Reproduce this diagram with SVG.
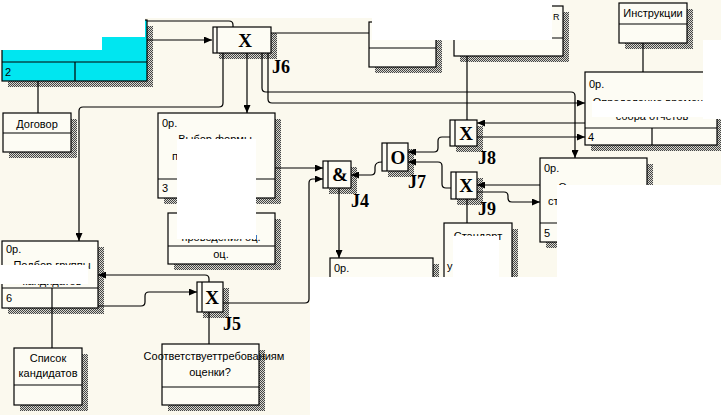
<svg xmlns="http://www.w3.org/2000/svg" width="721" height="415" viewBox="0 0 721 415">
<style>
.bx{fill:#fdfcf4;stroke:#000;stroke-width:1.2}
.sh{fill:url(#hatch)}
.ln{fill:none;stroke:#000;stroke-width:1.2}
.t{font-family:"Liberation Sans",Arial,sans-serif;font-size:11px;fill:#000}
.tm{font-family:"Liberation Sans",Arial,sans-serif;font-size:11px;fill:#000;text-anchor:middle}
.jx{font-family:"Liberation Serif","Times New Roman",serif;font-weight:bold;font-size:19px;fill:#000;text-anchor:middle}
.jl{font-family:"Liberation Serif","Times New Roman",serif;font-weight:bold;font-size:18px;fill:#000}
.wh{fill:#fff}
#connectors path{fill:none;stroke:#000;stroke-width:1.2}
</style>
<defs>
<pattern id="hatch" width="2" height="2" patternUnits="userSpaceOnUse">
<rect width="2" height="2" fill="#d8d8d0"/>
<rect width="1" height="1" fill="#444"/>
<rect x="1" y="1" width="1" height="1" fill="#444"/>
</pattern>
<marker id="ar" markerWidth="8" markerHeight="7" refX="8" refY="3.5" orient="auto" markerUnits="userSpaceOnUse">
<path d="M0,0 L8,3.5 L0,7 z" fill="#000"/>
</marker>
</defs>
<rect width="721" height="415" fill="#fbf9ee"/>
<rect x="0" y="0" width="560" height="18" fill="#fff"/>

<g id="node2">
<rect class="sh" x="8" y="26" width="145" height="61"/>
<rect x="2" y="20" width="145" height="61" fill="#00e6f0" stroke="#000" stroke-width="1.2"/>
<path class="ln" d="M2,62 H147 M75,62 V81"/>
<text class="t" x="5" y="76">2</text>
</g>

<g id="dogovor">
<rect class="sh" x="9" y="119" width="68" height="39"/>
<rect class="bx" x="3" y="113" width="68" height="39"/>
<path class="ln" d="M3,133 H71"/>
<text class="tm" x="37" y="128">Договор</text>
</g>

<g id="J6">
<rect class="sh" x="219" y="33" width="58" height="26"/>
<rect class="bx" x="213" y="27" width="58" height="26"/>
<path class="ln" d="M217,27 V53"/>
<text class="jx" x="245" y="47">X</text>
<text class="jl" x="272" y="73">J6</text>
</g>

<g id="vybrat">
<rect class="sh" x="375" y="28" width="67" height="45"/>
<rect class="bx" x="369" y="22" width="67" height="45"/>
<path class="ln" d="M369,48 H436"/>
</g>

<g id="boxR">
<rect class="sh" x="460" y="12" width="109" height="50"/>
<rect class="bx" x="454" y="6" width="109" height="50"/>
<path class="ln" d="M454,38 H563"/>
<text class="t" x="553" y="20" style="font-size:9px">R</text>
</g>

<g id="instr">
<rect class="sh" x="625" y="9" width="68" height="40"/>
<rect class="bx" x="619" y="3" width="68" height="40"/>
<path class="ln" d="M619,24 H687"/>
<text class="tm" x="653" y="17">Инструкции</text>
</g>

<g id="box4">
<rect class="sh" x="591" y="78" width="132" height="73"/>
<rect class="bx" x="585" y="72" width="132" height="73"/>
<path class="ln" d="M585,128 H717 M652,128 V145"/>
<text class="t" x="589" y="88">0р.</text>
<text class="tm" x="651" y="106">Определение времени</text>
<text class="tm" x="652" y="120">сбора отчетов</text>
<text class="t" x="588" y="141">4</text>
</g>

<g id="J8">
<rect class="sh" x="456" y="126" width="27" height="26"/>
<rect class="bx" x="450" y="120" width="27" height="26"/>
<path class="ln" d="M455,120 V146"/>
<text class="jx" x="466" y="140">X</text>
<text class="jl" x="478" y="164">J8</text>
</g>

<g id="J9">
<rect class="sh" x="457" y="178" width="26" height="27"/>
<rect class="bx" x="451" y="172" width="26" height="27"/>
<path class="ln" d="M456,172 V199"/>
<text class="jx" x="466" y="192">X</text>
<text class="jl" x="478" y="215">J9</text>
</g>

<g id="J7">
<rect class="sh" x="388" y="149" width="26" height="28"/>
<rect class="bx" x="382" y="143" width="26" height="28"/>
<path class="ln" d="M387,143 V171"/>
<text class="jx" x="398" y="164">O</text>
<text class="jl" x="408" y="188">J7</text>
</g>

<g id="J4">
<rect class="sh" x="329" y="167" width="28" height="27"/>
<rect class="bx" x="323" y="161" width="28" height="27"/>
<path class="ln" d="M328,161 V188"/>
<text class="jx" x="340" y="181">&amp;</text>
<text class="jl" x="351" y="207">J4</text>
</g>

<g id="J5">
<rect class="sh" x="203" y="288" width="26" height="30"/>
<rect class="bx" x="197" y="282" width="26" height="30"/>
<path class="ln" d="M202,282 V312"/>
<text class="jx" x="212" y="304">X</text>
<text class="jl" x="223" y="330">J5</text>
</g>

<g id="box3">
<rect class="sh" x="164" y="119" width="117" height="85"/>
<rect class="bx" x="158" y="113" width="117" height="85"/>
<path class="ln" d="M158,179 H275"/>
<text class="t" x="162" y="127">0р.</text>
<text class="tm" x="215" y="143">Выбор формы</text>
<text class="t" x="172" y="160">п</text>
<text class="t" x="162" y="192">3</text>
</g>

<g id="boxOc">
<rect class="sh" x="174" y="219" width="107" height="51"/>
<rect class="bx" x="168" y="213" width="107" height="51"/>
<path class="ln" d="M168,246 H275"/>
<text class="tm" x="221" y="241">проведения оц.</text>
<text class="tm" x="221" y="258">оц.</text>
</g>

<g id="box6">
<rect class="sh" x="8" y="247" width="96" height="67"/>
<rect class="bx" x="2" y="241" width="96" height="67"/>
<path class="ln" d="M2,288 H98"/>
<text class="t" x="6" y="253">0р.</text>
<text class="tm" x="52" y="269">Подбор группы</text>
<text class="tm" x="52" y="285">кандидатов</text>
<text class="t" x="6" y="302">6</text>
</g>

<g id="spisok">
<rect class="sh" x="20" y="354" width="68" height="57"/>
<rect class="bx" x="14" y="348" width="68" height="57"/>
<path class="ln" d="M14,385 H82"/>
<text class="tm" x="48" y="362">Список</text>
<text class="tm" x="48" y="377">кандидатов</text>
</g>

<g id="sootv">
<rect class="sh" x="168" y="350" width="97" height="61"/>
<rect class="bx" x="162" y="344" width="97" height="61"/>
<path class="ln" d="M162,387 H259"/>
<text class="tm" x="214" y="360">Соответствуеттребованиям</text>
<text class="tm" x="210" y="376">оценки?</text>
</g>

<g id="box5">
<rect class="sh" x="546" y="164" width="107" height="84"/>
<rect class="bx" x="540" y="158" width="107" height="84"/>
<path class="ln" d="M540,223 H647"/>
<text class="t" x="544" y="172">0р.</text>
<text class="tm" x="593" y="191">Определение</text>
<text class="t" x="548" y="205">ст</text>
<text class="t" x="544" y="237">5</text>
</g>

<g id="standart">
<rect class="sh" x="450" y="229" width="68" height="60"/>
<rect class="bx" x="444" y="223" width="68" height="60"/>
<text class="tm" x="478" y="240">Стандарт</text>
<text class="t" x="447" y="270">у</text>
</g>

<g id="box7">
<rect class="sh" x="336" y="264" width="103" height="60"/>
<rect class="bx" x="330" y="258" width="103" height="60"/>
<text class="t" x="334" y="272">0р.</text>
</g>

<g id="connectors">
<path d="M147,40 H212" marker-end="url(#ar)"/>
<path d="M147,21 H229 Q233,21 233,25 V27"/>
<path d="M271,33 H369"/>
<path d="M223,53 V103 Q223,107 219,107 H83 Q79,107 79,111 V241" marker-end="url(#ar)"/>
<path d="M247,53 V113" marker-end="url(#ar)"/>
<path d="M262,53 V88 Q262,92 266,92 H571 Q575,92 575,96 V158" marker-end="url(#ar)"/>
<path d="M268,53 V99 Q268,103 272,103 H585" marker-end="url(#ar)"/>
<path d="M467,56 V120"/>
<path d="M585,123 H477" marker-end="url(#ar)"/>
<path d="M477,137 H585" marker-end="url(#ar)"/>
<path d="M450,137 H442 Q438,137 438,141 V148 Q438,152 434,152 H408" marker-end="url(#ar)"/>
<path d="M451,188 H446 Q442,188 442,184 V166 Q442,162 438,162 H408" marker-end="url(#ar)"/>
<path d="M540,185 H477" marker-end="url(#ar)"/>
<path d="M477,192 H504 Q508,192 508,196 V198 Q508,202 512,202 H540" marker-end="url(#ar)"/>
<path d="M467,199 V223"/>
<path d="M382,162 Q375,162 375,167 V171 Q375,175 371,175 H351" marker-end="url(#ar)"/>
<path d="M275,168 H323" marker-end="url(#ar)"/>
<path d="M223,303 H305 Q309,303 309,299 V183 Q309,179 313,179 H323" marker-end="url(#ar)"/>
<path d="M339,188 V258" marker-end="url(#ar)"/>
<path d="M209,282 V279 Q209,275 205,275 H98" marker-end="url(#ar)"/>
<path d="M98,306 H141 Q145,306 145,302 V296 Q145,292 149,292 H197" marker-end="url(#ar)"/>
<path d="M52,288 V348"/>
<path d="M209,312 V344"/>
<path d="M643,43 V72"/>
<path d="M38,81 V113"/>
</g>

<g id="occlusions">
<rect class="wh" x="0" y="0" width="145" height="37"/>
<rect class="wh" x="0" y="37" width="102" height="13"/>
<rect class="wh" x="372" y="0" width="180" height="40"/>
<rect class="wh" x="592" y="101" width="129" height="16"/>
<rect class="wh" x="703" y="40" width="18" height="79"/>
<rect class="wh" x="177" y="139" width="79" height="100"/>
<rect class="wh" x="0" y="265" width="88" height="19"/>
<rect class="wh" x="557" y="185" width="164" height="92"/>
<rect class="wh" x="453" y="236" width="46" height="41"/>
<rect class="wh" x="310" y="277" width="411" height="138"/>
</g>
</svg>
